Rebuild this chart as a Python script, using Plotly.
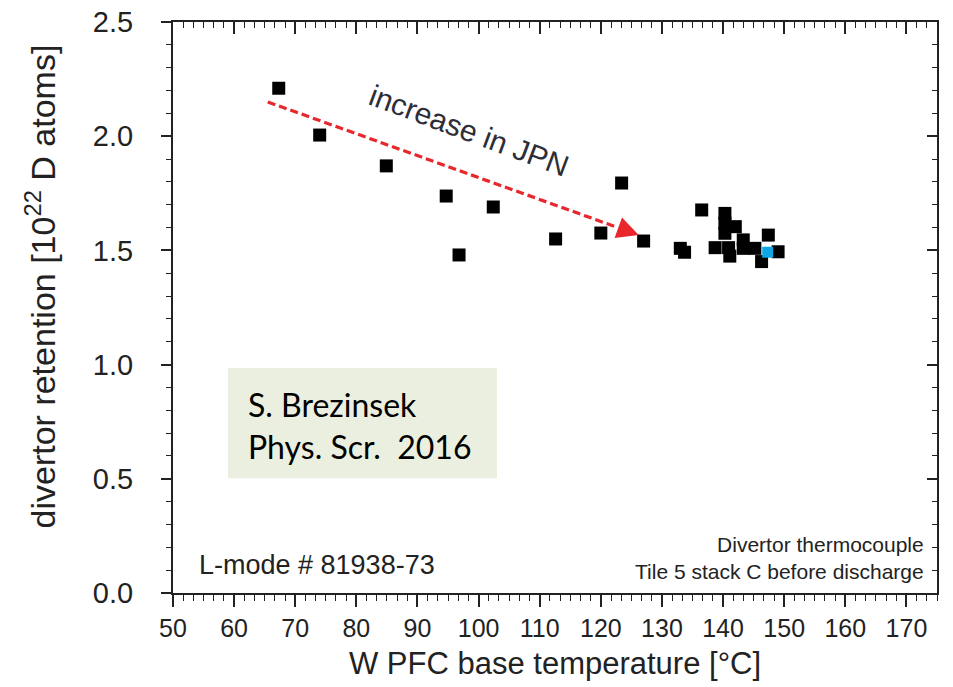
import plotly.graph_objects as go

# ---- data ----
temperature = [67.3, 74.0, 84.9, 94.7, 96.8, 102.4, 112.6, 120.0, 123.4, 127.0,
               133.0, 133.7, 136.5, 140.3, 140.3, 140.3, 142.0, 143.3, 138.7, 140.9,
               141.1, 143.3, 145.2, 146.3, 147.4, 149.0]
retention = [2.21, 2.005, 1.87, 1.738, 1.48, 1.69, 1.55, 1.576, 1.795, 1.541,
             1.509, 1.492, 1.677, 1.662, 1.619, 1.575, 1.604, 1.546, 1.512, 1.512,
             1.475, 1.509, 1.509, 1.451, 1.567, 1.494]
highlight_temperature = [147.3]
highlight_retention = [1.492]

arrow_x = [65.5, 122.8, 126.2]   # start, head base, tip
arrow_y = [2.15, 1.600, 1.567]

x_range = [50, 175]
y_range = [0, 2.5]
x_ticks = list(range(50, 171, 10))
y_ticks = [0.0, 0.5, 1.0, 1.5, 2.0, 2.5]

FONT = "Liberation Sans, Arial, sans-serif"
AXC = "#222222"
TXT = "#222222"

fig = go.Figure()

# dashed trend arrow shaft
fig.add_trace(go.Scatter(
    x=arrow_x[:2], y=arrow_y[:2], mode="lines",
    line=dict(color="#e8262c", width=3.2, dash="8px,4px"),
    hoverinfo="skip", showlegend=False))

fig.add_trace(go.Scatter(
    x=temperature, y=retention, mode="markers",
    marker=dict(symbol="square", size=13, color="black", line=dict(width=0)),
    showlegend=False))
fig.add_trace(go.Scatter(
    x=highlight_temperature, y=highlight_retention, mode="markers",
    marker=dict(symbol="square", size=11, color="#10a6e6", line=dict(width=0)),
    showlegend=False))

# invisible trace to carry the mirrored (top/right) axes
fig.add_trace(go.Scatter(
    x=temperature, y=retention, mode="markers", xaxis="x2", yaxis="y2",
    marker=dict(opacity=0), hoverinfo="skip", showlegend=False))

# arrow head
fig.add_annotation(
    x=arrow_x[2], y=arrow_y[2], ax=arrow_x[1], ay=arrow_y[1],
    xref="x", yref="y", axref="x", ayref="y", text="",
    showarrow=True, arrowhead=2, arrowsize=1.5, arrowwidth=2.9,
    arrowcolor="#e8262c", standoff=0)

fig.add_annotation(
    x=98.4, y=2.025, xref="x", yref="y", text="increase in JPN",
    showarrow=False, textangle=20.5,
    font=dict(family=FONT, size=30, color="#2e2e38"))

# citation box
fig.add_shape(type="rect", xref="paper", yref="paper",
              x0=0.072, x1=0.424, y0=0.201, y1=0.394,
              fillcolor="#ebefdf", line=dict(width=0), layer="below")
fig.add_annotation(
    x=0.096, y=0.293, xref="paper", yref="paper", xanchor="left", yanchor="middle",
    text="S. Brezinsek<br>Phys. Scr.\u00a0\u00a02016", align="left",
    showarrow=False,
    font=dict(family="Lato, sans-serif", size=32, color="black"))

fig.add_annotation(
    x=0.031, y=0.049, xref="paper", yref="paper", xanchor="left", yanchor="middle",
    text="L-mode # 81938-73", showarrow=False,
    font=dict(family=FONT, size=27, color=TXT))

fig.add_annotation(
    x=0.985, y=0.061, xref="paper", yref="paper", xanchor="right", yanchor="middle",
    text="Divertor thermocouple<br>Tile 5 stack C before discharge", align="right",
    showarrow=False,
    font=dict(family=FONT, size=21, color=TXT))

# y-axis title
fig.add_annotation(
    x=-0.174, y=0.537, xref="paper", yref="paper", xanchor="center", yanchor="middle",
    text="divertor retention [10<sup>22</sup> D atoms]", textangle=-90,
    showarrow=False, font=dict(family=FONT, size=34, color=TXT))

common_x = dict(range=x_range, showline=True, linecolor=AXC, linewidth=2,
                showgrid=False, zeroline=False, tickmode="array", tickvals=x_ticks,
                tickcolor=AXC, tickwidth=1.5, automargin=False)
common_y = dict(range=y_range, showline=True, linecolor=AXC, linewidth=2,
                showgrid=False, zeroline=False, tickmode="array", tickvals=y_ticks,
                tickcolor=AXC, tickwidth=1.5, automargin=False)

fig.update_layout(
    width=953, height=687,
    margin=dict(l=173, r=16, t=22, b=94),
    paper_bgcolor="white", plot_bgcolor="white",
    font=dict(family=FONT, color=TXT),
    xaxis=dict(**common_x, ticks="outside", ticklen=12,
               ticktext=[str(v) for v in x_ticks],
               tickfont=dict(size=25, family=FONT, color=TXT),
               ticklabelstandoff=0,
               minor=dict(dtick=10 / 6, tick0=50, ticks="outside", ticklen=6,
                          tickcolor=AXC, tickwidth=1.2, showgrid=False),
               title=dict(text="W PFC base temperature [°C]",
                          font=dict(size=31, family=FONT, color=TXT),
                          standoff=11)),
    yaxis=dict(**common_y, ticks="outside", ticklen=10,
               ticktext=[f"{v:.1f}" for v in y_ticks],
               tickfont=dict(size=29, family=FONT, color=TXT),
               ticklabelstandoff=22,
               minor=dict(dtick=0.1, tick0=0, ticks="outside", ticklen=5,
                          tickcolor=AXC, tickwidth=1.2, showgrid=False)),
    xaxis2=dict(**common_x, overlaying="x", side="top", anchor="y",
                ticks="inside", ticklen=12, showticklabels=False,
                minor=dict(dtick=10 / 6, tick0=50, ticks="inside", ticklen=6,
                           tickcolor=AXC, tickwidth=1.2, showgrid=False)),
    yaxis2=dict(**common_y, overlaying="y", side="right", anchor="x",
                ticks="inside", ticklen=10, showticklabels=False,
                minor=dict(dtick=0.1, tick0=0, ticks="inside", ticklen=5,
                           tickcolor=AXC, tickwidth=1.2, showgrid=False)),
)

fig.write_html("out.html")
